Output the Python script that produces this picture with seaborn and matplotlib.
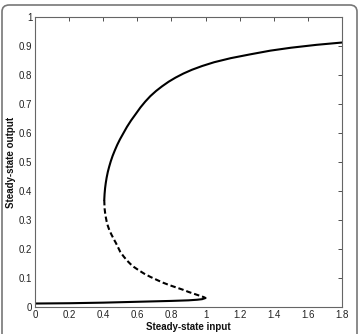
import matplotlib
matplotlib.use("Agg")
import matplotlib.pyplot as plt
import seaborn as sns
import pandas as pd
from matplotlib.patches import FancyBboxPatch
from matplotlib.ticker import FuncFormatter

# Data
upper_x = [0.406, 0.408, 0.411, 0.415, 0.420, 0.427, 0.435, 0.444, 0.455, 0.468, 0.482, 0.498, 0.517,
           0.539, 0.563, 0.590, 0.618, 0.646, 0.676, 0.710, 0.745, 0.784, 0.824, 0.870, 0.920, 0.980,
           1.050, 1.147, 1.260, 1.380, 1.500, 1.650, 1.800]
upper_y = [0.369, 0.390, 0.410, 0.428, 0.446, 0.466, 0.484, 0.502, 0.521, 0.540, 0.559, 0.578, 0.598,
           0.621, 0.643, 0.665, 0.688, 0.708, 0.727, 0.745, 0.761, 0.777, 0.791, 0.805, 0.818, 0.831,
           0.844, 0.858, 0.871, 0.884, 0.894, 0.904, 0.912]

unstable_x = [0.406, 0.407, 0.408, 0.411, 0.415, 0.420, 0.427, 0.436, 0.448, 0.461, 0.475, 0.500,
              0.520, 0.540, 0.560, 0.580, 0.610, 0.640, 0.676, 0.716, 0.750, 0.790, 0.830, 0.870,
              0.900, 0.930, 0.955, 0.975, 0.990, 1.000]
unstable_y = [0.369, 0.355, 0.340, 0.325, 0.310, 0.295, 0.280, 0.265, 0.250, 0.235, 0.220, 0.190,
              0.174, 0.160, 0.148, 0.138, 0.126, 0.115, 0.104, 0.093, 0.084, 0.075, 0.067, 0.059,
              0.052, 0.046, 0.041, 0.037, 0.034, 0.031]

lower_x = [0.0, 0.2, 0.4, 0.6, 0.8, 0.9, 0.95, 0.98, 1.0]
lower_y = [0.012, 0.013, 0.015, 0.018, 0.021, 0.023, 0.025, 0.027, 0.031]

x_ticks = [0, 0.2, 0.4, 0.6, 0.8, 1.0, 1.2, 1.4, 1.6, 1.8]
y_ticks = [0, 0.1, 0.2, 0.3, 0.4, 0.5, 0.6, 0.7, 0.8, 0.9, 1.0]

sns.set_theme(style="white")
plt.rcParams['font.family'] = ['Liberation Sans', 'DejaVu Sans']

fig = plt.figure(figsize=(3.61, 3.34), dpi=100)
ax = fig.add_axes([35/361, 1 - 307/334, (342 - 35)/361, (307 - 17)/334])

# rounded outer frame
frame = FancyBboxPatch((2/361, -0.05), 355/361, 1 - 5/334 + 0.05,
                       boxstyle="round,pad=0,rounding_size=0.02",
                       transform=fig.transFigure, facecolor='none',
                       edgecolor='#777777', linewidth=1.2, clip_on=False)
fig.patches.append(frame)

df_up = pd.DataFrame({"x": upper_x, "y": upper_y})
df_un = pd.DataFrame({"x": unstable_x, "y": unstable_y})
df_lo = pd.DataFrame({"x": lower_x, "y": lower_y})

lw = 1.5
sns.lineplot(data=df_up, x="x", y="y", ax=ax, sort=False, color='black', linewidth=lw, estimator=None)
sns.lineplot(data=df_lo, x="x", y="y", ax=ax, sort=False, color='black', linewidth=lw, estimator=None)
sns.lineplot(data=df_un, x="x", y="y", ax=ax, sort=False, color='black', linewidth=lw, estimator=None)
ax.lines[-1].set_linestyle((0, (2.6, 1.4)))
for ln in ax.lines:
    ln.set_solid_joinstyle('round')
    ln.set_solid_capstyle('round')

ax.set_xlim(0, 1.8)
ax.set_ylim(0, 1)
ax.set_xticks(x_ticks)
ax.set_yticks(y_ticks)
fmt = FuncFormatter(lambda v, p: "%g" % round(v, 2))
ax.xaxis.set_major_formatter(fmt)
ax.yaxis.set_major_formatter(fmt)
ax.tick_params(direction='in', top=True, right=True, length=3, width=0.6,
               labelsize=7, colors='#333333', pad=2, labelcolor='#222222')
for s in ax.spines.values():
    s.set_color('#666666')
    s.set_linewidth(0.8)

ax.set_xlabel("Steady-state input", fontsize=7, fontweight='bold', color='#111111')
ax.set_ylabel("Steady-state output", fontsize=7, fontweight='bold', color='#111111')
ax.xaxis.set_label_coords(0.5, -0.05)
ax.yaxis.set_label_coords(-0.062, 0.5)
ax.grid(False)

fig.savefig("out.png", dpi=100)
